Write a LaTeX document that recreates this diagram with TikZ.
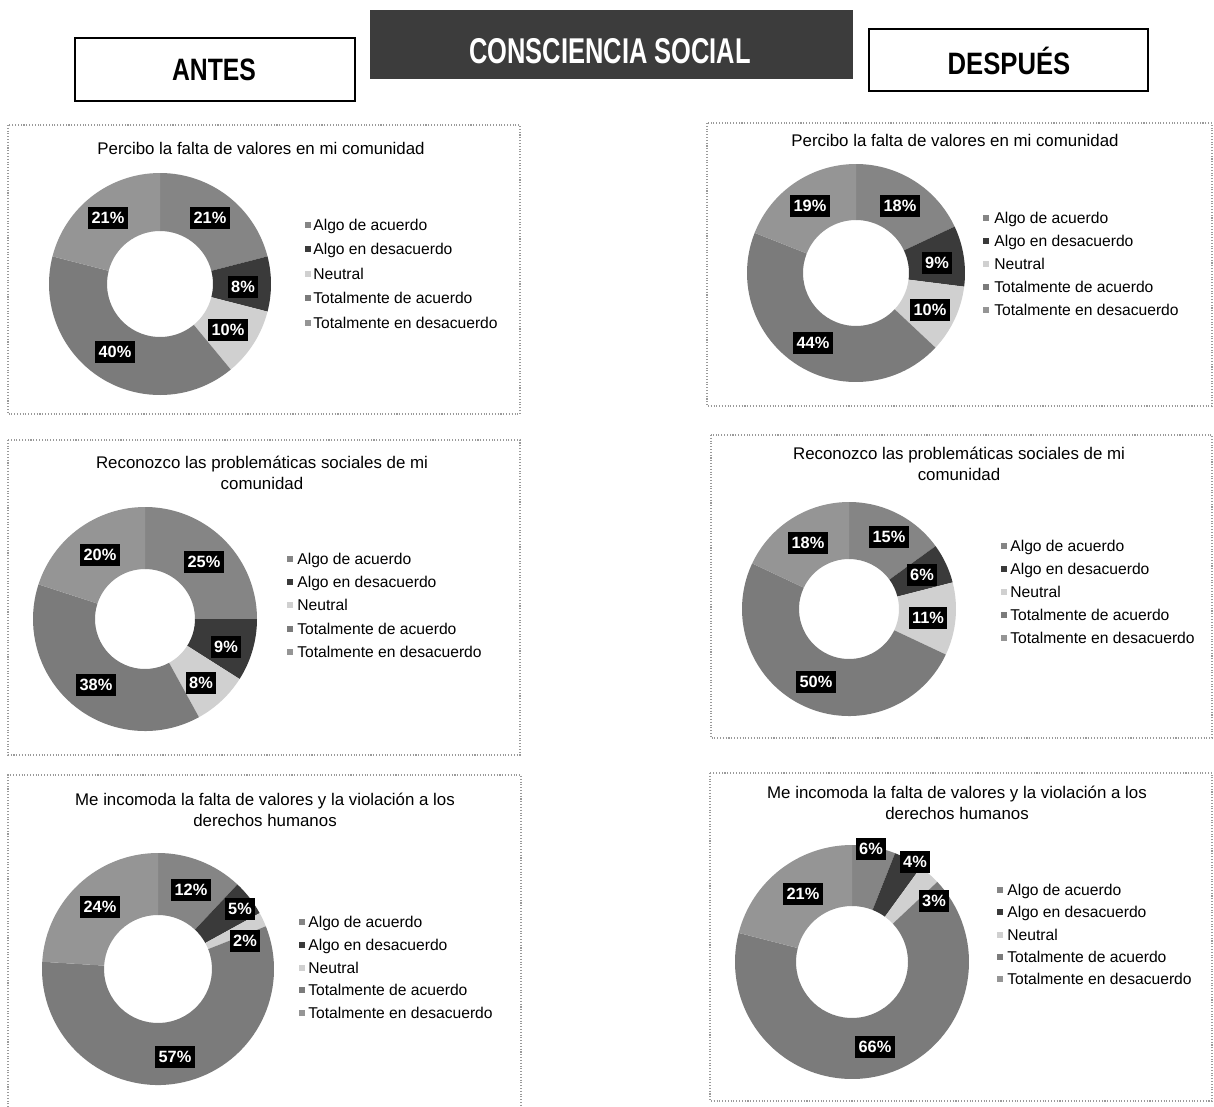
\documentclass[tikz,border=0pt]{standalone}
\usepackage{fontspec}
\setmainfont{Liberation Sans}
\usepackage{graphicx}
\definecolor{slice1}{HTML}{858585}% Algo de acuerdo
\definecolor{slice2}{HTML}{3a3a3a}% Algo en desacuerdo
\definecolor{slice3}{HTML}{d0d0d0}% Neutral
\definecolor{slice4}{HTML}{7b7b7b}% Totalmente de acuerdo
\definecolor{slice5}{HTML}{959595}% Totalmente en desacuerdo
\definecolor{headdark}{HTML}{3c3c3c}
\definecolor{framegray}{HTML}{9a9a9a}
\tikzset{
  hdrbox/.style={draw=black, line width=0.8pt, fill=white},
  frame/.style={draw=framegray, densely dotted, line width=0.6pt},
  ctitle/.style={font=\fontsize{9.6}{11.6}\selectfont, align=center, inner sep=0pt},
  legtext/.style={font=\fontsize{8.9}{10}\selectfont, inner sep=0pt, anchor=base west},
  pct/.style={fill=black, text=white, font=\fontsize{9.3}{10}\selectfont\bfseries,
              inner xsep=1.8pt, inner ysep=0pt, minimum height=12.5pt},
}
% donut: cx, cy (px, downwards), outer r, inner r, values
\newcommand\donutring[5]{%
  \begin{scope}[shift={(#1,-#2)}]
    \gdef\curang{90}
    \foreach \v [count=\i] in {#5} {
      \pgfmathsetmacro\endang{\curang-3.6*\v}
      \fill[fill=slice\i] (\curang:#3) arc[start angle=\curang, end angle=\endang, radius=#3]
        -- (\endang:#4) arc[start angle=\endang, end angle=\curang, radius=#4] -- cycle;
      \xdef\curang{\endang}
    }
  \end{scope}
}
% legend: name, marker x, text x, first row y, row step
\newcommand\donutlegend[5]{%
  \foreach \t [count=\i] in {Algo de acuerdo, Algo en desacuerdo, Neutral, Totalmente de acuerdo, Totalmente en desacuerdo} {
    \pgfmathsetmacro\yy{#4+(\i-1)*#5}
    \fill[fill=slice\i] (#2-3,-\yy-3) rectangle (#2+3,-\yy+3);
    \node[legtext] (#1-l\i) at (#3,-\yy-5.5) {\t};
  }
}
\begin{document}
\begin{tikzpicture}[x=0.02cm, y=0.02cm]
\useasboundingbox[fill=white] (0,0) rectangle (1214,-1106);

% ---------- header ----------
\draw[hdrbox] (75,-38) rectangle (355,-101);
\node (antes) at (214,-70) {\scalebox{0.8}[1]{\fontsize{17.6}{20}\selectfont\bfseries ANTES}};
\fill[headdark] (370,-10) rectangle (853,-79);
\node[text=white] (cs) at (610,-51) {\scalebox{0.71}[1]{\fontsize{20.4}{24}\selectfont\bfseries CONSCIENCIA SOCIAL}};
\draw[hdrbox] (869,-29) rectangle (1148,-91);
\node (despues) at (1009,-61) {\scalebox{0.83}[1]{\fontsize{17.6}{20}\selectfont\bfseries DESPUÉS}};

% ---------- chart 1: antes, valores ----------
\draw[frame] (8,-125) rectangle (520,-414);
\node[ctitle] (t1) at (261,-148) {Percibo la falta de valores en mi comunidad};
\donutring{160}{284}{111}{53}{21,8,10,40,21}
\node[pct] (a1p1) at (210,-218) {21\%};
\node[pct] (a1p2) at (243,-287) {8\%};
\node[pct] (a1p3) at (228,-330) {10\%};
\node[pct] (a1p4) at (115,-352) {40\%};
\node[pct] (a1p5) at (108,-218) {21\%};
\donutlegend{a1}{308}{313}{225}{24.4}

% ---------- chart 2: después, valores ----------
\draw[frame] (707,-123) rectangle (1212,-406);
\node[ctitle] (t2) at (955,-140) {Percibo la falta de valores en mi comunidad};
\donutring{856}{273}{109}{53}{18,9,10,44,19}
\node[pct] (d1p1) at (900,-206) {18\%};
\node[pct] (d1p2) at (937,-263) {9\%};
\node[pct] (d1p3) at (930,-310) {10\%};
\node[pct] (d1p4) at (813,-343) {44\%};
\node[pct] (d1p5) at (810,-206) {19\%};
\donutlegend{d1}{986}{994}{218}{23}

% ---------- chart 3: antes, problemáticas ----------
\draw[frame] (8,-440) rectangle (520,-755);
\node[ctitle] (t3) at (262,-473) {Reconozco las problemáticas sociales de mi\\comunidad};
\donutring{145}{619}{112}{50}{25,9,8,38,20}
\node[pct] (a2p1) at (204,-562) {25\%};
\node[pct] (a2p2) at (226,-647) {9\%};
\node[pct] (a2p3) at (201,-683) {8\%};
\node[pct] (a2p4) at (96,-685) {38\%};
\node[pct] (a2p5) at (100,-555) {20\%};
\donutlegend{a2}{290}{297}{559}{23.2}

% ---------- chart 4: después, problemáticas ----------
\draw[frame] (711,-435) rectangle (1212,-738);
\node[ctitle] (t4) at (959,-464) {Reconozco las problemáticas sociales de mi\\comunidad};
\donutring{849}{609}{107}{50}{15,6,11,50,18}
\node[pct] (d2p1) at (889,-537) {15\%};
\node[pct] (d2p2) at (922,-575) {6\%};
\node[pct] (d2p3) at (928,-618) {11\%};
\node[pct] (d2p4) at (816,-682) {50\%};
\node[pct] (d2p5) at (808,-543) {18\%};
\donutlegend{d2}{1004}{1010}{546}{23}

% ---------- chart 5: antes, derechos ----------
\draw[frame] (8,-1110) -- (8,-775) -- (521,-775) -- (521,-1110);
\node[ctitle] (t5) at (265,-810) {Me incomoda la falta de valores y la violación a los\\derechos humanos};
\donutring{158}{969}{116}{54}{12,5,2,57,24}
\node[pct] (a3p1) at (191,-890) {12\%};
\node[pct] (a3p2) at (240,-909) {5\%};
\node[pct] (a3p3) at (245,-941) {2\%};
\node[pct] (a3p4) at (175,-1057) {57\%};
\node[pct] (a3p5) at (100,-907) {24\%};
\donutlegend{a3}{302}{308}{922}{22.8}

% ---------- chart 6: después, derechos ----------
\draw[frame] (710,-773) rectangle (1212,-1101);
\node[ctitle] (t6) at (957,-803) {Me incomoda la falta de valores y la violación a los\\derechos humanos};
\donutring{852}{962}{117}{56}{6,4,3,66,21}
\node[pct] (d3p1) at (871,-849) {6\%};
\node[pct] (d3p2) at (915,-862) {4\%};
\node[pct] (d3p3) at (934,-901) {3\%};
\node[pct] (d3p4) at (875,-1047) {66\%};
\node[pct] (d3p5) at (803,-894) {21\%};
\donutlegend{d3}{1000}{1007}{890}{22.3}
\end{tikzpicture}
\end{document}
